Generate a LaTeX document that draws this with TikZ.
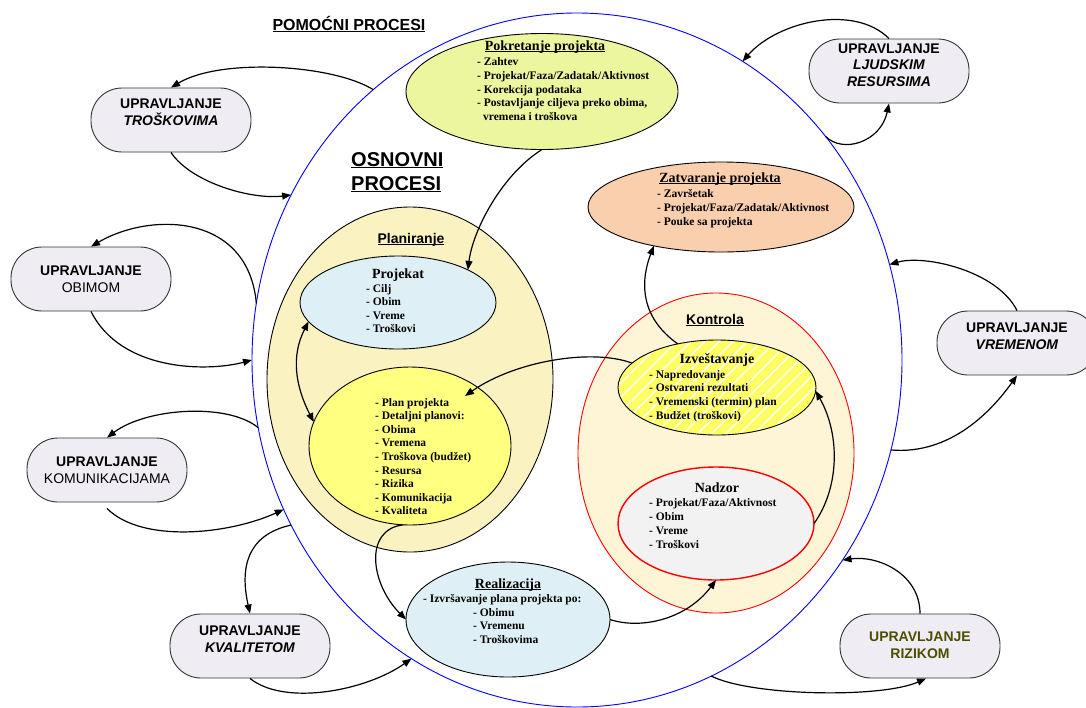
\documentclass[tikz,border=0pt]{standalone}
\usepackage{fontspec}
\setmainfont{Liberation Serif}
\setsansfont{Liberation Sans}
\usetikzlibrary{shapes.geometric, arrows.meta, patterns.meta}
\definecolor{pokfill}{RGB}{236,246,158}
\definecolor{plafill}{RGB}{250,242,192}
\definecolor{profill}{RGB}{222,240,246}
\definecolor{planfill}{RGB}{255,255,128}
\definecolor{zatfill}{RGB}{249,207,174}
\definecolor{konfill}{RGB}{254,244,214}
\definecolor{izvfill}{RGB}{255,255,100}
\definecolor{nadfill}{RGB}{242,242,242}
\definecolor{reafill}{RGB}{222,240,245}
\definecolor{boxfill}{RGB}{239,237,243}
\definecolor{rizcol}{RGB}{77,77,0}
\newcommand{\myul}[1]{\sbox0{#1}\rlap{\rule[-2.2pt]{\wd0}{1.1pt}}\usebox0}
\begin{document}
\begin{tikzpicture}[x=1pt,y=-1pt,
  ell/.style={ellipse, inner sep=0pt, outer sep=0pt, draw=black, line width=0.9pt},
  upr/.style={rectangle, rounded corners=31pt, draw=black!80, line width=0.9pt, fill=boxfill, minimum width=160pt, minimum height=64pt, inner sep=0pt},
  btxt/.style={align=center, inner sep=0pt, font=\sffamily\fontsize{14}{17}\selectfont},
  ln/.style={anchor=base west, inner sep=0pt, font=\bfseries\fontsize{11.5}{13.8}\selectfont},
  ttl/.style={anchor=base, inner sep=0pt, font=\bfseries\fontsize{14}{16}\selectfont},
  sttl/.style={anchor=base, inner sep=0pt, font=\sffamily\bfseries\fontsize{14}{16}\selectfont},
  con/.style={line width=1.2pt, -{Triangle[length=9pt,width=7pt]}},
  con2/.style={line width=1.2pt, {Triangle[length=9pt,width=7pt]}-{Triangle[length=9pt,width=7pt]}}]
\useasboundingbox (0,0) rectangle (1086,707);
\fill[white] (0,0) rectangle (1086,707);

% big circle of supporting processes
\node[ell, draw=blue, line width=0.9pt, minimum width=650pt, minimum height=694pt] (pom) at (577,360) {};

% main ellipses
\node[ell, fill=pokfill, minimum width=272pt, minimum height=116pt] (pok) at (542,91.5) {};
\node[ell, fill=plafill, minimum width=286pt, minimum height=345pt] (pla) at (410,379.5) {};
\node[ell, fill=profill, minimum width=196pt, minimum height=93pt] (pro) at (398,302.5) {};
\node[ell, fill=planfill, minimum width=202pt, minimum height=158pt] (plan) at (410,446) {};
\node[ell, fill=zatfill, minimum width=266pt, minimum height=90pt] (zat) at (721,207) {};
\node[ell, draw=red, fill=konfill, minimum width=276pt, minimum height=320pt] (kon) at (716,453) {};
\node[ell, preaction={fill=izvfill}, pattern={Lines[angle=45,distance=10pt,line width=1.4pt]}, pattern color=white, minimum width=198pt, minimum height=95pt] (izv) at (717,387.5) {};
\node[ell, draw=red, line width=1.4pt, fill=nadfill, minimum width=196pt, minimum height=113pt] (nad) at (716,523.5) {};
\node[ell, fill=reafill, minimum width=204pt, minimum height=115pt] (rea) at (508,619.5) {};

% headings
\node[anchor=base, inner sep=0pt, font=\sffamily\bfseries\fontsize{16}{18}\selectfont] (pomt) at (349,30) {\myul{POMOĆNI PROCESI}};
\node[anchor=base west, inner sep=0pt, font=\sffamily\bfseries\fontsize{20}{24}\selectfont] (osn1) at (351,166) {\myul{OSNOVNI}};
\node[anchor=base west, inner sep=0pt, font=\sffamily\bfseries\fontsize{20}{24}\selectfont] (osn2) at (351,190) {\myul{PROCESI}};

% Pokretanje
\node[ttl] (pokt) at (545,50) {\myul{Pokretanje projekta}};
\foreach \lin [count=\i] in {- Zahtev, - Projekat/Faza/Zadatak/Aktivnost, - Korekcija podataka, {- Postavljanje ciljeva preko obima,}}
  \node[ln] (pk\i) at (477,{65.5+(\i-1)*13.8}) {\lin};
\node[ln] (pk5) at (483,120.7) {vremena i troškova};

% Planiranje
\node[sttl] (plat) at (411,243) {\myul{Planiranje}};
\node[ttl] (prot) at (398,278) {Projekat};
\foreach \lin [count=\i] in {- Cilj, - Obim, - Vreme, - Troškovi}
  \node[ln] (pr\i) at (366,{292+(\i-1)*13.6}) {\lin};
\foreach \lin [count=\i] in {- Plan projekta, - Detaljni planovi:, - Obima, - Vremena, - Troškova (budžet), - Resursa, - Rizika, - Komunikacija, - Kvaliteta}
  \node[ln] (pl\i) at (375,{406+(\i-1)*13.6}) {\lin};

% Zatvaranje
\node[ttl] (zatt) at (720,182) {\myul{Zatvaranje projekta}};
\foreach \lin [count=\i] in {- Završetak, - Projekat/Faza/Zadatak/Aktivnost, - Pouke sa projekta}
  \node[ln] (za\i) at (657,{197+(\i-1)*14}) {\lin};

% Kontrola
\node[sttl] (kont) at (715,324) {\myul{Kontrola}};
\node[ttl] (izvt) at (717,363) {Izveštavanje};
\foreach \lin [count=\i] in {- Napredovanje, - Ostvareni rezultati, - Vremenski (termin) plan, - Budžet (troškovi)}
  \node[ln] (iz\i) at (649,{378+(\i-1)*13.9}) {\lin};
\node[ttl] (nadt) at (717,492) {Nadzor};
\foreach \lin [count=\i] in {- Projekat/Faza/Aktivnost, - Obim, - Vreme, - Troškovi}
  \node[ln] (na\i) at (649,{506+(\i-1)*14}) {\lin};

% Realizacija
\node[ttl] (reat) at (508,588) {\myul{Realizacija}};
\node[ln] (re1) at (423,602) {- Izvršavanje plana projekta po:};
\foreach \lin [count=\i] in {- Obimu, - Vremenu, - Troškovima}
  \node[ln] (re\i b) at (473,{616+(\i-1)*13.7}) {\lin};

% supporting process boxes
\node[upr] (tro) at (171,120) {};
\node[btxt] (trot) at (171,112) {\textbf{UPRAVLJANJE}\\\textbf{\textit{TROŠKOVIMA}}};
\node[upr] (obi) at (91,279) {};
\node[btxt] (obit) at (91,279.5) {\textbf{UPRAVLJANJE}\\OBIMOM};
\node[upr] (kom) at (107,470) {};
\node[btxt] (komt) at (107,470) {\textbf{UPRAVLJANJE}\\KOMUNIKACIJAMA};
\node[upr] (kva) at (250,646) {};
\node[btxt] (kvat) at (250,639.5) {\textbf{UPRAVLJANJE}\\\textbf{\textit{KVALITETOM}}};
\node[upr] (lju) at (889,71) {};
\node[btxt, font=\sffamily\fontsize{14}{16.5}\selectfont] (ljut) at (889,65) {\textbf{UPRAVLJANJE}\\\textbf{\textit{LJUDSKIM}}\\\textbf{\textit{RESURSIMA}}};
\node[upr] (vre) at (1017,343) {};
\node[btxt] (vret) at (1017,336) {\textbf{UPRAVLJANJE}\\\textbf{\textit{VREMENOM}}};
\node[upr] (riz) at (920,646) {};
\node[btxt, text=rizcol] (rizt) at (920,645.5) {\textbf{UPRAVLJANJE}\\\textbf{RIZIKOM}};

% connectors: supporting processes
\draw[con] (pom.127) .. controls +(-40,-25) and +(50,-30) .. (tro.north);
\draw[con] (tro.south) .. controls +(20,30) and +(-40,5) .. (pom.150.6);
\draw[con] (pom.170.8) .. controls +(-8,-90) and +(60,-35) .. (obi.north);
\draw[con] (obi.south) .. controls +(30,60) and +(-45,12) .. (pom.180.4);
\draw[con] (pom.192.8) .. controls +(-30,-25) and +(40,-30) .. (kom.north);
\draw[con] ([yshift=-6pt]kom.south) .. controls +(35,35) and +(-55,25) .. (pom.207.3);
\draw[con] (pom.210.2) .. controls +(-45,10) and +(-10,-45) .. (kva.north);
\draw[con] (kva.south) .. controls +(35,28) and +(-45,32) .. (pom.241.7);
\draw[con] (lju.north) .. controls +(-35,-35) and +(35,-40) .. (pom.61.4);
\draw[con] (pom.42.2) .. controls +(18,18) and +(-8,38) .. (lju.south);
\draw[con] (vre.north) .. controls +(-20,-40) and +(35,-10) .. (pom.17.3);
\draw[con] (pom.344.6) .. controls +(60,5) and +(-25,35) .. (vre.south);
\draw[con] (riz.north) .. controls +(0,-40) and +(35,-5) .. (pom.323);
\draw[con] (pom.293.6) .. controls +(40,20) and +(-45,20) .. ([xshift=6pt]riz.south);

% connectors: core processes
\coordinate (planin) at (465,396);
\draw[con] (pok.south) .. controls +(-40,25) and +(5,-40) .. (pro.25);
\draw[con2] (pro.192) .. controls +(-18,35) and +(-18,-35) .. (plan.166);
\draw[con] (izv.164) .. controls +(-40,-15) and +(50,-35) .. (planin);
\draw[con] (izv.132) .. controls +(-35,-25) and +(-15,40) .. (zat.210);
\draw[con] (nad.0) .. controls +(25,-35) and +(25,45) .. (izv.358);
\draw[con] (plan.265) .. controls +(-40,5) and +(-35,-35) .. (rea.180);
\draw[con] (rea.0) .. controls +(30,10) and +(-30,40) .. (nad.270);
\end{tikzpicture}
\end{document}
